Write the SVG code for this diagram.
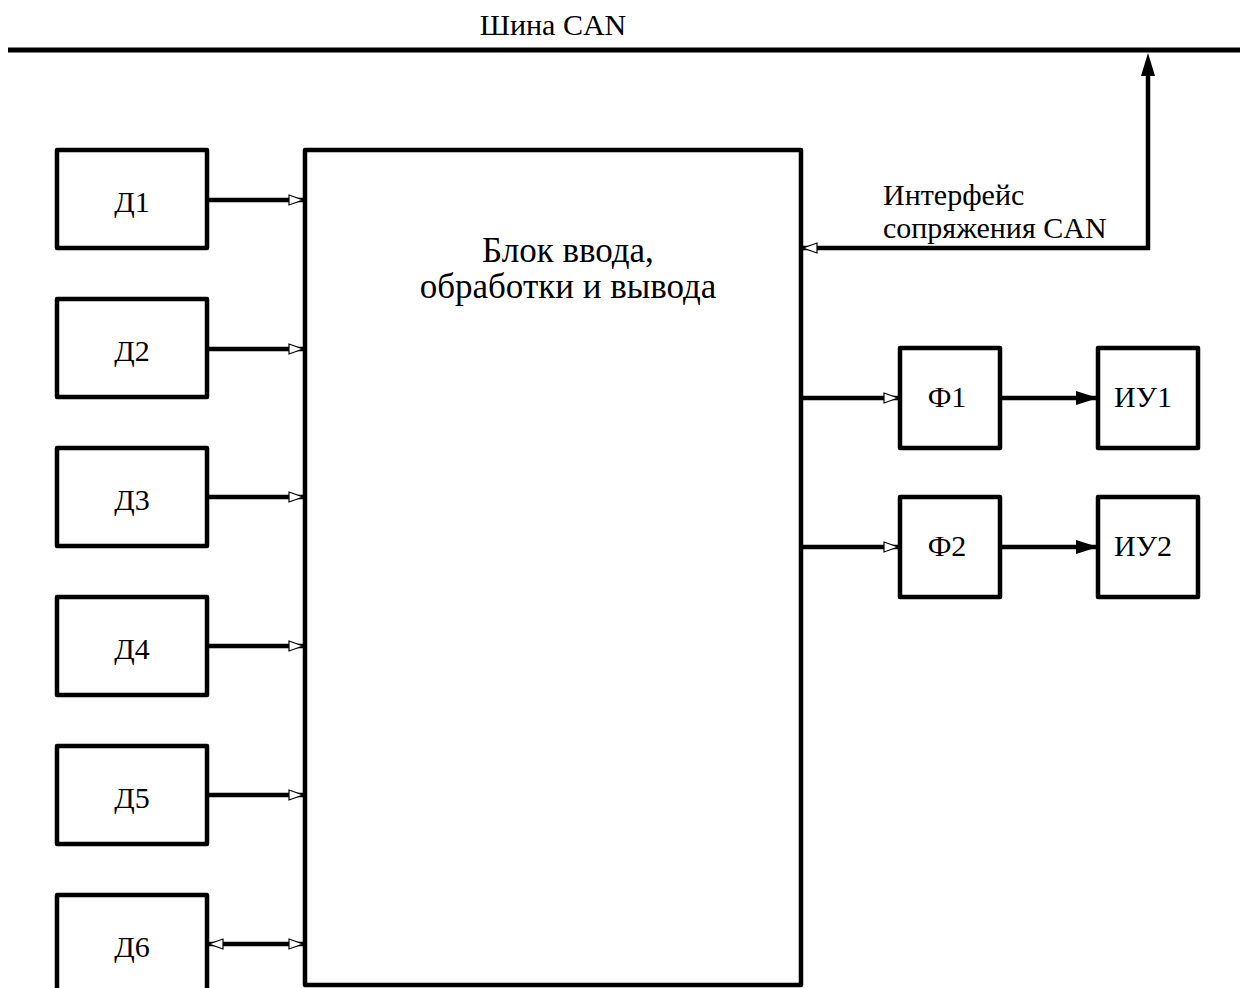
<svg xmlns="http://www.w3.org/2000/svg" width="1240" height="988" viewBox="0 0 1240 988">
<style>
.box{fill:#fff;stroke:#000;stroke-width:4.5;stroke-linejoin:round}
.ln{fill:none;stroke:#000;stroke-width:4.5}
.t{font-family:"Liberation Serif",serif;font-size:30px;fill:#000}
.big{font-size:35px}
.c{text-anchor:middle}
</style>
<defs>
<marker id="open" viewBox="0 0 16 12" refX="15" refY="6" markerWidth="16" markerHeight="12" markerUnits="userSpaceOnUse" orient="auto-start-reverse">
<path d="M1,1 L15,6 L1,11 Z" fill="#fff" stroke="#000" stroke-width="1.2"/>
</marker>
<marker id="fill" viewBox="0 0 22 14" refX="21" refY="7" markerWidth="22" markerHeight="14" markerUnits="userSpaceOnUse" orient="auto">
<path d="M0,0 L22,7 L0,14 Z" fill="#000"/>
</marker>
</defs>
<g id="bus">
<line x1="8" y1="50" x2="1240" y2="50" stroke="#000" stroke-width="5"/>
<text class="t c" x="553" y="35">Шина CAN</text>
</g>
<g id="main"><rect class="box" x="305" y="150" width="496" height="835"/>
<text class="t big c" x="568" y="262">Блок ввода,</text>
<text class="t big c" x="568" y="298">обработки и вывода</text></g>
<g id="d1"><rect class="box" x="57" y="150" width="150" height="98"/><text class="t c" x="132" y="212">Д1</text></g>
<g id="d2"><rect class="box" x="57" y="299" width="150" height="98"/><text class="t c" x="132" y="361">Д2</text></g>
<g id="d3"><rect class="box" x="57" y="448" width="150" height="98"/><text class="t c" x="132" y="510">Д3</text></g>
<g id="d4"><rect class="box" x="57" y="597" width="150" height="98"/><text class="t c" x="132" y="659">Д4</text></g>
<g id="d5"><rect class="box" x="57" y="746" width="150" height="98"/><text class="t c" x="132" y="808">Д5</text></g>
<g id="d6"><rect class="box" x="57" y="895" width="150" height="98"/><text class="t c" x="132" y="957">Д6</text></g>
<g id="f1"><rect class="box" x="900" y="348" width="100" height="100"/><text class="t c" x="947" y="407">Ф1</text></g>
<g id="f2"><rect class="box" x="900" y="497" width="100" height="100"/><text class="t c" x="947" y="556">Ф2</text></g>
<g id="iu1"><rect class="box" x="1098" y="348" width="100" height="100"/><text class="t c" x="1143" y="407">ИУ1</text></g>
<g id="iu2"><rect class="box" x="1098" y="497" width="100" height="100"/><text class="t c" x="1143" y="556">ИУ2</text></g>
<g id="connectors">
<line class="ln" x1="207" y1="200" x2="303" y2="200" marker-end="url(#open)"/>
<line class="ln" x1="207" y1="349" x2="303" y2="349" marker-end="url(#open)"/>
<line class="ln" x1="207" y1="497" x2="303" y2="497" marker-end="url(#open)"/>
<line class="ln" x1="207" y1="646" x2="303" y2="646" marker-end="url(#open)"/>
<line class="ln" x1="207" y1="795" x2="303" y2="795" marker-end="url(#open)"/>
<line class="ln" x1="209" y1="944" x2="303" y2="944" marker-start="url(#open)" marker-end="url(#open)"/>
<polyline class="ln" points="1148,70 1148,248 803,248" marker-end="url(#open)"/>
<path d="M1148,53 L1141,76 L1155,76 Z" fill="#000"/>
<line class="ln" x1="803" y1="398" x2="898" y2="398" marker-end="url(#open)"/>
<line class="ln" x1="803" y1="547" x2="898" y2="547" marker-end="url(#open)"/>
<line class="ln" x1="1000" y1="398" x2="1097" y2="398" marker-end="url(#fill)"/>
<line class="ln" x1="1000" y1="547" x2="1097" y2="547" marker-end="url(#fill)"/>
<text class="t" x="883" y="205">Интерфейс</text>
<text class="t" x="883" y="238">сопряжения CAN</text>
</g>
</svg>
